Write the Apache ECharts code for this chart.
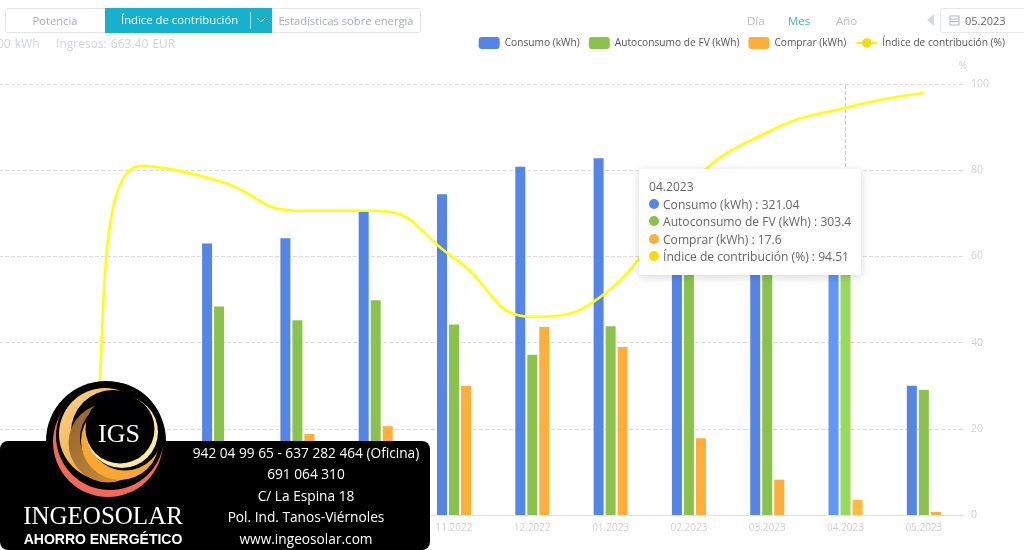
<!DOCTYPE html>
<html>
<head>
<meta charset="utf-8">
<title>Índice de contribución</title>
<script src="https://cdn.jsdelivr.net/npm/echarts@6/dist/echarts.min.js"></script>
<style>
html, body { margin: 0; padding: 0; background: #fff; overflow: hidden; }
body { width: 1024px; height: 550px; position: relative; font-family: "Open Sans", "Noto Sans", sans-serif; }
/* the chart starts left of the window, the first month is cropped like in the screenshot */
#main { position: absolute; left: -55px; top: 0; width: 1079px; height: 550px; }
.abs { position: absolute; white-space: nowrap; }
.tabs { left: 5px; top: 8px; width: 416px; height: 25px; border: 1px solid #e2e4e8; border-radius: 3px; box-sizing: border-box; }
.tab { top: 0; height: 23px; line-height: 23px; text-align: center; font-size: 11.2px; color: #a9adb3; }
.active { left: 99px; width: 167px; top: -1px; height: 25px; background: #17b0cd; }
.active span { position: absolute; left: 16px; top: 0; line-height: 24px; font-size: 11.3px; color: #fff; }
.active i { position: absolute; left: 145px; top: 4px; height: 17px; border-left: 1px solid #9fdde9; }
.active svg { position: absolute; left: 151px; top: 9px; }
.info { left: -3px; top: 35px; font-size: 12px; color: #d3d5d8; word-spacing: 1px; }
.period { top: 13px; font-size: 11.5px; color: #b9bcc1; }
.date { left: 940px; top: 8px; width: 100px; height: 25px; border: 1px solid #e6e8eb; border-radius: 3px; box-sizing: border-box; font-size: 11px; line-height: 23px; color: #666; padding-left: 24px; }
#panel { left: 0; top: 441px; width: 430px; height: 109px; background: #000; border-radius: 8px; }
.contact { left: 182px; width: 248px; text-align: center; color: #fff; font-size: 13.7px; line-height: 20px; }
#logo { position: absolute; left: 0; top: 370px; }
</style>
</head>
<body>
<div id="main"></div>

<div class="abs tabs">
  <div class="abs tab" style="left:0;width:98px">Potencia</div>
  <div class="abs active"><span>Índice de contribución</span><i></i>
    <svg width="10" height="6"><path d="M1 1 L5 5 L9 1" fill="none" stroke="#fff" stroke-width="1"/></svg>
  </div>
  <div class="abs tab" style="left:266px;width:148px">Estadísticas sobre energía</div>
</div>
<div class="abs info">00 kWh &nbsp;&nbsp; Ingresos: 663.40 EUR</div>
<div class="abs period" style="left:747px">Día</div>
<div class="abs period" style="left:788px;color:#3fb4c9">Mes</div>
<div class="abs period" style="left:836px">Año</div>
<svg class="abs" style="left:927px;top:14px" width="8" height="13"><path d="M7 0 L7 12 L0 6 Z" fill="#d4d7db"/></svg>
<div class="abs date">05.2023</div>
<svg class="abs" style="left:949px;top:15px" width="11" height="11"><rect x="1" y="1" width="9" height="9" fill="none" stroke="#b5b8bc"/><path d="M1 4 H10 M1 6.5 H10" stroke="#b5b8bc"/></svg>

<div class="abs" id="panel"></div>
<svg id="logo" width="220" height="130">
  <defs>
    <linearGradient id="gold" x1="0" y1="0" x2="1" y2="1">
      <stop offset="0" stop-color="#fbd48c"/><stop offset="0.6" stop-color="#f3ae4a"/><stop offset="1" stop-color="#f6a52c"/>
    </linearGradient>
    <linearGradient id="brown" x1="0" y1="0" x2="1" y2="1">
      <stop offset="0" stop-color="#8d6230"/><stop offset="0.55" stop-color="#b57c36"/><stop offset="1" stop-color="#f19a26"/>
    </linearGradient>
  </defs>
  <circle cx="106" cy="71" r="60" fill="#000"/>
  <circle cx="108" cy="72" r="55" fill="#ef6a58"/>
  <circle cx="110" cy="66" r="54" fill="#000"/>
  <circle cx="105" cy="64" r="46" fill="url(#gold)"/>
  <circle cx="113" cy="62" r="42" fill="#000"/>
  <circle cx="108" cy="73" r="39.5" fill="url(#brown)"/>
  <circle cx="116" cy="68" r="36" fill="#000"/>
  <circle cx="120" cy="71" r="39" fill="#f9a733"/>
  <circle cx="125" cy="63" r="37.5" fill="#000"/>
  <circle cx="122" cy="62" r="36" fill="#fbe9a6"/>
  <circle cx="120" cy="59" r="34.5" fill="#000"/>
  <text x="119" y="72" text-anchor="middle" font-family="Liberation Serif" font-size="26" fill="#fff">IGS</text>
</svg>
<div class="abs" style="left:0;top:502px;width:206px;text-align:center;color:#fff;font-family:'Liberation Serif',serif;font-size:25px;line-height:28px">INGEOSOLAR</div>
<div class="abs" style="left:0;top:530px;width:206px;text-align:center;color:#fff;font-family:'Liberation Sans',sans-serif;font-weight:bold;font-size:14px;line-height:18px">AHORRO ENERGÉTICO</div>
<div class="abs contact" style="top:443px">942 04 99 65 - 637 282 464 (Oficina)</div>
<div class="abs contact" style="top:464px">691 064 310</div>
<div class="abs contact" style="top:486px">C/ La Espina 18</div>
<div class="abs contact" style="top:507px">Pol. Ind. Tanos-Viérnoles</div>
<div class="abs contact" style="top:529px">www.ingeosolar.com</div>

<script>
var months = ['05.2022','06.2022','07.2022','08.2022','09.2022','10.2022','11.2022','12.2022','01.2023','02.2023','03.2023','04.2023','05.2023'];
var consumo = [0, 0, 60, 315, 321, 353, 372, 404, 414, 379, 372, 321.04, 150];
var autoconsumo = [0, 0, 49, 242, 226, 249, 221, 186, 219, 290, 331, 303.4, 145];
var comprar = [0, 0, 11, 73, 94, 103, 150, 218, 195, 89, 41, 17.6, 3.5];
var indice = [0, 0, 81, 77.5, 70.6, 70.6, 59.6, 46, 52.5, 76.5, 88.8, 94.51, 97.9];
var percentTicks = { min: 0, max: 100, interval: 20 };

var myChart = echarts.init(document.getElementById('main'));

function barSeries(name, values, color, hover) {
    return {
        name: name,
        type: 'bar',
        barWidth: 10,
        barGap: '20%',
        data: values,
        itemStyle: { color: color },
        emphasis: { itemStyle: { color: hover } }
    };
}

myChart.setOption({
    animation: false,
    textStyle: { fontFamily: '"Open Sans", "Noto Sans", sans-serif' },
    grid: { left: 0, right: 61, top: 84, bottom: 35 },
    legend: {
        top: 32,
        right: 14,
        itemWidth: 21,
        itemHeight: 12,
        itemGap: 9,
        textStyle: { fontSize: 10.2, color: '#555' }
    },
    tooltip: {
        trigger: 'axis',
        alwaysShowContent: true,
        position: [694, 169],
        backgroundColor: '#fff',
        borderWidth: 0,
        padding: [9, 10],
        extraCssText: 'box-shadow:0 2px 10px rgba(0,0,0,.16);border-radius:2px;line-height:17.5px;',
        textStyle: { fontSize: 12.1, color: '#666' },
        axisPointer: { type: 'line', z: 1, lineStyle: { type: 'dashed', color: '#c8c8c8', width: 1 } },
        formatter: function (params) {
            var html = params[0].name;
            params.forEach(function (p) {
                html += '<br>' + p.marker + p.seriesName + ' : ' + p.value;
            });
            return html;
        }
    },
    xAxis: {
        type: 'category',
        data: months,
        axisLine: { lineStyle: { color: '#e3e3e3' } },
        axisTick: { lineStyle: { color: '#e3e3e3' } },
        axisLabel: { color: '#cfd1d4', fontSize: 10 }
    },
    yAxis: [
        { type: 'value', min: 0, max: 500, show: false },
        {
            type: 'value',
            position: 'right',
            name: '%',
            nameGap: 13,
            nameTextStyle: { color: '#cfd1d4', fontSize: 10, align: 'center' },
            min: percentTicks.min,
            max: percentTicks.max,
            interval: percentTicks.interval,
            axisLine: { show: false },
            axisTick: { show: false },
            axisLabel: { color: '#cfd1d4', fontSize: 10.5, margin: 8 },
            splitLine: { show: true, lineStyle: { type: 'dashed', color: '#dcdcdc' } }
        }
    ],
    series: [
        barSeries('Consumo (kWh)', consumo, '#5585e6', '#5f97fb'),
        barSeries('Autoconsumo de FV (kWh)', autoconsumo, '#8bc24c', '#9bd95a'),
        barSeries('Comprar (kWh)', comprar, '#fdae3b', '#ffba40'),
        {
            name: 'Índice de contribución (%)',
            type: 'line',
            yAxisIndex: 1,
            smooth: true,
            symbol: 'circle',
            showSymbol: false,
            symbolSize: 7,
            data: indice,
            itemStyle: { color: '#f5dc0a' },
            lineStyle: { color: '#fdf00c', width: 2.6 },
            emphasis: { scale: false, itemStyle: { opacity: 0 }, lineStyle: { width: 2.6 } }
        }
    ]
});

myChart.dispatchAction({ type: 'showTip', seriesIndex: 0, dataIndex: months.indexOf('04.2023') });
</script>
</body>
</html>
